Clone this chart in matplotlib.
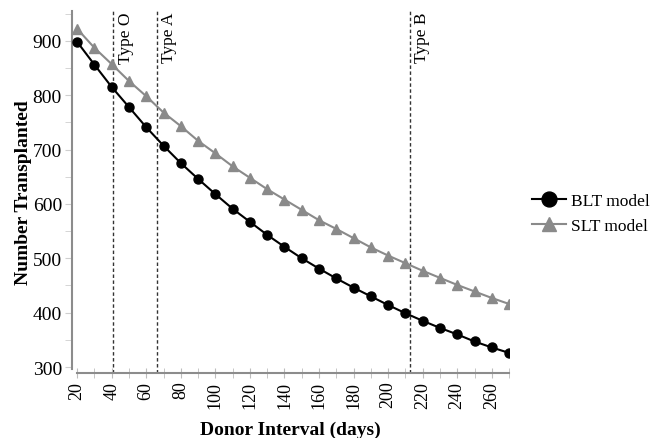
import matplotlib.pyplot as plt
from matplotlib.ticker import MultipleLocator

plt.rcParams['font.family'] = ['Liberation Serif', 'DejaVu Serif']

intervalle = list(range(20, 271, 10))
blt = [898, 856, 815, 778, 741, 707, 675, 646, 618, 591, 567, 543, 521,
       500, 481, 463, 446, 430, 414, 399, 385, 372, 360, 347, 336, 326]
slt = [922, 887, 857, 826, 798, 768, 743, 716, 693, 669, 648, 627, 608,
       589, 570, 554, 537, 520, 505, 491, 477, 464, 451, 439, 427, 416]
types_sang = ['Type O', 'Type A', 'Type B']
pos_types = [41, 66, 212.5]

fig = plt.figure(figsize=(6.51, 4.39), dpi=100)
ax = fig.add_axes([0.110, 0.148, 0.672, 0.825])

ax.plot(intervalle, blt, color='black', lw=1.5, marker='o', markersize=6.5,
        label='BLT model', zorder=3)
ax.plot(intervalle, slt, color='#8a8a8a', lw=1.5, marker='^', markersize=6.5,
        label='SLT model', zorder=3)

for nom, x in zip(types_sang, pos_types):
    ax.axvline(x, color='#333333', lw=1, ls=(0, (2.5, 1.8)), zorder=1)
    ax.text(x + 2.5, 953, nom, rotation=90, va='top', ha='left', fontsize=12.5)

ax.set_xlim(16.8, 270)
ax.set_ylim(289, 955)
ax.spines['top'].set_visible(False)
ax.spines['right'].set_visible(False)
for s in ['left', 'bottom']:
    ax.spines[s].set_color('#8c8c8c')
    ax.spines[s].set_linewidth(1.5)
ax.spines['bottom'].set_bounds(20, 270)
ax.spines['left'].set_bounds(296, 955)

ax.xaxis.set_minor_locator(MultipleLocator(10))
ax.set_xticks(range(20, 261, 20))
ax.set_yticks(range(300, 901, 100))
ax.yaxis.set_minor_locator(MultipleLocator(50))
ax.tick_params(axis='x', which='both', direction='inout', length=7,
               color='#bdbdbd', labelrotation=90, labelsize=13, pad=2)
ax.tick_params(axis='y', which='both', direction='out', length=5,
               color='#cfcfcf', labelsize=14, pad=2)

ax.set_xlabel('Donor Interval (days)', fontsize=14, fontweight='bold', labelpad=9.5)
ax.set_ylabel('Number Transplanted', fontsize=14, fontweight='bold', labelpad=0.5)

ax.legend(loc='center left', bbox_to_anchor=(1.016, 0.44), frameon=False,
          fontsize=12.5, handlelength=2.0, handletextpad=0.27,
          labelspacing=0.5, markerscale=1.65)

plt.savefig('out.png', dpi=100)
